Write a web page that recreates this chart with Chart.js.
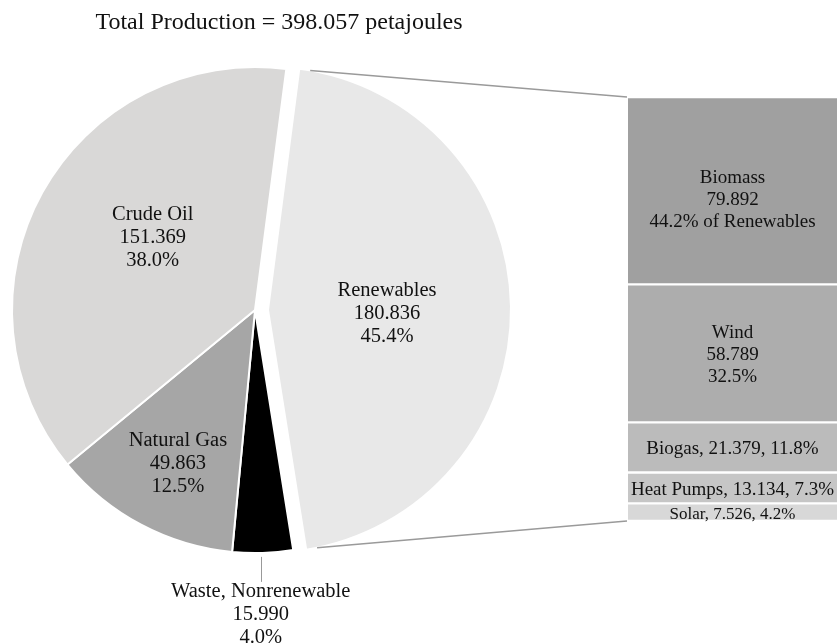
<!DOCTYPE html>
<html>
<head>
<meta charset="utf-8">
<script src="https://cdn.jsdelivr.net/npm/chart.js@4.4.1/dist/chart.umd.min.js"></script>
<style>
  html, body { margin: 0; padding: 0; background: #fff; }
  #wrap { position: relative; width: 837px; height: 643px; }
  #wrap canvas { position: absolute; left: 0; top: 0; }
</style>
</head>
<body>
<div id="wrap">
  <canvas id="pie" width="837" height="643"></canvas>
  <canvas id="bar" width="837" height="643"></canvas>
</div>
<script>
const titleText = "Total Production = 398.057 petajoules";

// main pie, clockwise from just right of 12 o'clock
const sourceLabels = ["Renewables", "Waste, Nonrenewable", "Natural Gas", "Crude Oil"];
const sourceValues = [180.836, 15.990, 49.863, 151.369];

// renewables breakdown, bottom of the stack first
const renewLabels = ["Solar", "Heat Pumps", "Biogas", "Wind", "Biomass"];
const renewValues = [7.526, 13.134, 21.379, 58.789, 79.892];

const pieColors = ["#e8e8e8", "#000000", "#a6a6a6", "#d9d8d7"];
const barColors = ["#d8d8d8", "#c6c6c6", "#bbbbbb", "#adadad", "#a0a0a0"];

const serif = '"Liberation Serif", "Times New Roman", serif';
const explodeDistance = 13;
// [fraction of radius, angle tweak in degrees, y nudge] for the labels inside slices
const labelPlace = [[0.49, 0, 6], null, [0.70, -1, 2], [0.52, 7, 2]];

const sourceTotal = sourceValues.reduce((a, b) => a + b, 0);
const renewTotal = renewValues.reduce((a, b) => a + b, 0);

function pct(v, total) {
  return (v / total * 100).toFixed(1) + "%";
}

function drawLines(ctx, lines, x, cy, lh) {
  lines.forEach((t, i) => {
    ctx.fillText(t, x, cy + (i - (lines.length - 1) / 2) * lh);
  });
}

function shiftOf(arc) {
  const mid = (arc.startAngle + arc.endAngle) / 2;
  return { dx: Math.cos(mid) * explodeDistance, dy: Math.sin(mid) * explodeDistance };
}

// pulls the renewables slice out of the pie
const explodePlugin = {
  id: "explode",
  afterUpdate(chart) {
    const arc = chart.getDatasetMeta(0).data[0];
    if (!arc || arc.$shifted) return;
    const baseDraw = arc.draw;
    arc.draw = function (ctx, area) {
      const s = shiftOf(this);
      ctx.save();
      ctx.translate(s.dx, s.dy);
      baseDraw.call(this, ctx, area);
      ctx.restore();
    };
    arc.$shifted = true;
  }
};

const pieLabelPlugin = {
  id: "pieLabels",
  afterDraw(chart) {
    const ctx = chart.ctx;
    const arcs = chart.getDatasetMeta(0).data;
    ctx.save();
    ctx.fillStyle = "#111";
    ctx.textAlign = "center";
    ctx.textBaseline = "middle";

    ctx.font = "24px " + serif;
    ctx.fillText(titleText, 279, 23);

    ctx.font = "20.5px " + serif;
    arcs.forEach((arc, i) => {
      const lines = [sourceLabels[i], sourceValues[i].toFixed(3), pct(sourceValues[i], sourceTotal)];
      const mid = (arc.startAngle + arc.endAngle) / 2;
      if (labelPlace[i]) {
        const a = mid + labelPlace[i][1] * Math.PI / 180;
        const r = arc.outerRadius * labelPlace[i][0];
        const s = i === 0 ? shiftOf(arc) : { dx: 0, dy: 0 };
        const x = arc.x + s.dx + Math.cos(a) * r;
        const y = arc.y + s.dy + Math.sin(a) * r;
        drawLines(ctx, lines, x, y + labelPlace[i][2], 23);
      } else {
        // small slice: label below with a leader line
        const x = arc.x + Math.cos(mid) * arc.outerRadius - 2;
        const y0 = arc.y + Math.sin(mid) * arc.outerRadius + 4;
        ctx.strokeStyle = "#999";
        ctx.lineWidth = 1;
        ctx.beginPath();
        ctx.moveTo(Math.round(x) + 0.5, y0);
        ctx.lineTo(Math.round(x) + 0.5, y0 + 25);
        ctx.stroke();
        drawLines(ctx, lines, x, y0 + 58, 23);
      }
    });
    ctx.restore();
  }
};

const pieChart = new Chart(document.getElementById("pie"), {
  type: "pie",
  data: {
    labels: sourceLabels,
    datasets: [{
      data: sourceValues,
      backgroundColor: pieColors,
      borderColor: "#ffffff",
      borderWidth: 2
    }]
  },
  options: {
    responsive: false,
    animation: false,
    events: [],
    rotation: 7.4,
    radius: 243,
    layout: { padding: { left: 0, right: 327, top: 0, bottom: 23 } },
    plugins: {
      legend: { display: false },
      tooltip: { enabled: false }
    }
  },
  plugins: [explodePlugin, pieLabelPlugin]
});

const connectorPlugin = {
  id: "connectors",
  beforeDatasetsDraw(chart) {
    const arc = pieChart.getDatasetMeta(0).data[0];
    const s = shiftOf(arc);
    const nudge = 2.6 * Math.PI / 180;
    const top = chart.getDatasetMeta(renewLabels.length - 1).data[0];
    const bottom = chart.getDatasetMeta(0).data[0];
    const left = top.x - top.width / 2 - 1;
    const ctx = chart.ctx;
    const a1 = arc.startAngle + nudge;
    const a2 = arc.endAngle - nudge;
    ctx.save();
    ctx.strokeStyle = "#9a9a9a";
    ctx.lineWidth = 1.5;
    ctx.beginPath();
    ctx.moveTo(arc.x + s.dx + Math.cos(a1) * arc.outerRadius, arc.y + s.dy + Math.sin(a1) * arc.outerRadius);
    ctx.lineTo(left, top.y);
    ctx.moveTo(arc.x + s.dx + Math.cos(a2) * arc.outerRadius, arc.y + s.dy + Math.sin(a2) * arc.outerRadius);
    ctx.lineTo(left, bottom.base);
    ctx.stroke();
    ctx.restore();
  }
};

const barLabelPlugin = {
  id: "barLabels",
  afterDatasetsDraw(chart) {
    const ctx = chart.ctx;
    ctx.save();
    ctx.fillStyle = "#111";
    ctx.textAlign = "center";
    ctx.textBaseline = "middle";
    renewLabels.forEach((name, i) => {
      const bar = chart.getDatasetMeta(i).data[0];
      const cy = (bar.y + bar.base) / 2 + 2;
      const v = renewValues[i];
      ctx.font = (i === 0 ? "17px " : "19px ") + serif;
      if (name === "Biomass") {
        drawLines(ctx, [name, v.toFixed(3), pct(v, renewTotal) + " of Renewables"], bar.x, cy + 7, 22);
      } else if (name === "Wind") {
        drawLines(ctx, [name, v.toFixed(3), pct(v, renewTotal)], bar.x, cy, 22);
      } else {
        ctx.fillText(name + ", " + v.toFixed(3) + ", " + pct(v, renewTotal), bar.x, cy);
      }
    });
    ctx.restore();
  }
};

const barChart = new Chart(document.getElementById("bar"), {
  type: "bar",
  data: {
    labels: ["Renewables"],
    datasets: renewLabels.map((name, i) => ({
      label: name,
      data: [renewValues[i]],
      backgroundColor: barColors[i],
      borderColor: "#ffffff",
      borderWidth: { top: 1.5, bottom: 1.5, left: 0, right: 0 },
      borderSkipped: false,
      categoryPercentage: 1,
      barPercentage: 1
    }))
  },
  options: {
    responsive: false,
    animation: false,
    events: [],
    layout: { padding: { left: 628, right: 0, top: 97, bottom: 122 } },
    scales: {
      x: { display: false, stacked: true },
      y: { display: false, stacked: true, min: 0, max: renewTotal }
    },
    plugins: {
      legend: { display: false },
      tooltip: { enabled: false }
    }
  },
  plugins: [connectorPlugin, barLabelPlugin]
});
</script>
</body>
</html>
